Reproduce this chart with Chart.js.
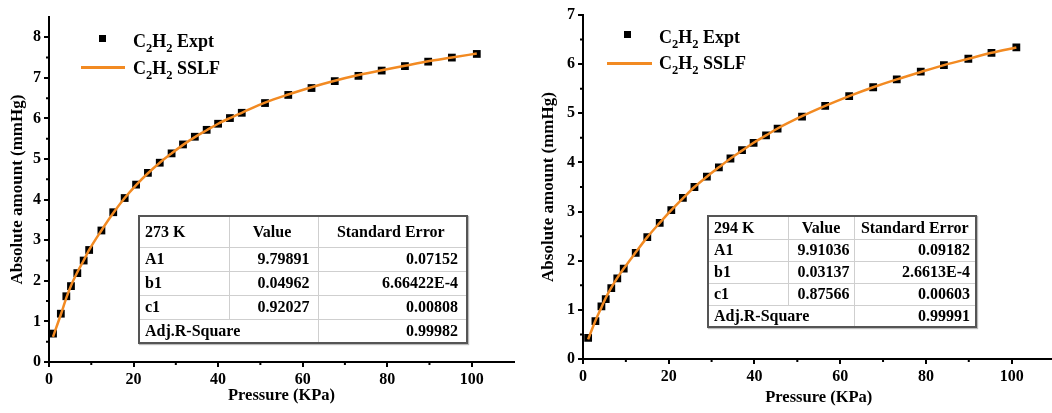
<!DOCTYPE html>
<html>
<head>
<meta charset="utf-8">
<script src="https://cdn.jsdelivr.net/npm/chart.js@4.4.1/dist/chart.umd.min.js"></script>
<style>
  html, body { margin: 0; padding: 0; background: #fff; }
  body { width: 1052px; height: 413px; position: relative; overflow: hidden; }
  canvas { position: absolute; top: 0; }
  #cvLeft { left: 0; }
  #cvRight { left: 530px; }
  .lg { position: absolute; font: bold 18px 'Liberation Serif', 'Times New Roman', serif; color: #000; line-height: 18px; white-space: nowrap; }
  .lg sub { font-size: 12.5px; line-height: 0; vertical-align: -5px; }
  .sq { position: absolute; width: 7px; height: 7px; background: #000; }
  .ln { position: absolute; height: 2.5px; background: #f28a22; }
  table.fit { position: absolute; border-collapse: collapse; border: 2px solid #555; box-shadow: 1px 1px 1px #bbb;
    font: bold 16px 'Liberation Serif', 'Times New Roman', serif; color: #000; background: #fff; table-layout: fixed; }
  table.fit td { border: 1px solid #cfcfcf; padding: 0 8px 0 5px; white-space: nowrap; }
  table.fit td.r { text-align: right; }
  table.fit td.c { text-align: center; }
</style>
</head>
<body>
<canvas id="cvLeft" width="530" height="413"></canvas>
<canvas id="cvRight" width="530" height="413"></canvas>

<!-- legends -->
<div class="sq" style="left:99px;top:35px"></div>
<div class="lg" style="left:133px;top:32px">C<sub>2</sub>H<sub>2</sub> Expt</div>
<div class="ln" style="left:81px;top:66px;width:44px"></div>
<div class="lg" style="left:133px;top:59px">C<sub>2</sub>H<sub>2</sub> SSLF</div>

<div class="sq" style="left:624px;top:31px"></div>
<div class="lg" style="left:659px;top:28px">C<sub>2</sub>H<sub>2</sub> Expt</div>
<div class="ln" style="left:607px;top:62px;width:45px"></div>
<div class="lg" style="left:659px;top:54px">C<sub>2</sub>H<sub>2</sub> SSLF</div>

<!-- fit parameter tables -->
<table class="fit" style="left:138px;top:215px;width:328px">
  <colgroup><col style="width:90px"><col style="width:89px"><col style="width:149px"></colgroup>
  <tr style="height:31px"><td>273 K</td><td class="c">Value</td><td class="c">Standard Error</td></tr>
  <tr style="height:24px"><td>A1</td><td class="r">9.79891</td><td class="r">0.07152</td></tr>
  <tr style="height:24px"><td>b1</td><td class="r">0.04962</td><td class="r">6.66422E-4</td></tr>
  <tr style="height:24px"><td>c1</td><td class="r">0.92027</td><td class="r">0.00808</td></tr>
  <tr style="height:24px"><td colspan="2">Adj.R-Square</td><td class="r">0.99982</td></tr>
</table>

<table class="fit" style="left:707px;top:215px;width:268px">
  <colgroup><col style="width:80px"><col style="width:66px"><col style="width:122px"></colgroup>
  <tr style="height:23px"><td>294 K</td><td class="c" style="padding:0">Value</td><td class="c" style="padding:0 4px">Standard Error</td></tr>
  <tr style="height:22px"><td>A1</td><td class="r" style="padding-right:4px">9.91036</td><td class="r" style="padding-right:5px">0.09182</td></tr>
  <tr style="height:22px"><td>b1</td><td class="r" style="padding-right:4px">0.03137</td><td class="r" style="padding-right:5px">2.6613E-4</td></tr>
  <tr style="height:22px"><td>c1</td><td class="r" style="padding-right:4px">0.87566</td><td class="r" style="padding-right:5px">0.00603</td></tr>
  <tr style="height:22px"><td colspan="2">Adj.R-Square</td><td class="r" style="padding-right:5px">0.99991</td></tr>
</table>

<script>
// 273 K isotherm
const leftPressure = [0.95, 2.8, 4.1, 5.2, 6.7, 8.2, 9.5, 12.4, 15.2, 17.9, 20.6, 23.4, 26.2, 29.0, 31.7,
  34.5, 37.3, 40.0, 42.8, 45.6, 51.1, 56.6, 62.1, 67.6, 73.2, 78.7, 84.2, 89.7, 95.3, 101.2];
const leftExpt = [0.70, 1.19, 1.62, 1.87, 2.19, 2.50, 2.76, 3.24, 3.69, 4.04, 4.37, 4.66, 4.91, 5.14, 5.36,
  5.55, 5.72, 5.87, 6.01, 6.14, 6.38, 6.58, 6.75, 6.92, 7.05, 7.18, 7.29, 7.40, 7.50, 7.59];
const leftFit = [0.62, 1.17, 1.58, 1.88, 2.21, 2.50, 2.76, 3.24, 3.67, 4.04, 4.36, 4.65, 4.91, 5.14, 5.35,
  5.54, 5.71, 5.87, 6.01, 6.14, 6.39, 6.59, 6.77, 6.93, 7.07, 7.19, 7.30, 7.41, 7.50, 7.60];

// 294 K isotherm
const rightPressure = [1.2, 2.9, 4.3, 5.3, 6.6, 8.0, 9.5, 12.3, 15.0, 17.9, 20.6, 23.3, 26.0, 28.9, 31.7,
  34.4, 37.1, 39.8, 42.7, 45.4, 51.1, 56.5, 62.1, 67.7, 73.2, 78.8, 84.2, 89.9, 95.3, 101.1];
const rightExpt = [0.43, 0.77, 1.07, 1.22, 1.44, 1.64, 1.84, 2.16, 2.48, 2.77, 3.03, 3.28, 3.50, 3.71, 3.90,
  4.08, 4.25, 4.40, 4.55, 4.69, 4.93, 5.15, 5.35, 5.53, 5.69, 5.85, 5.98, 6.11, 6.23, 6.34];
const rightFit = [0.40, 0.78, 1.05, 1.24, 1.45, 1.65, 1.84, 2.17, 2.48, 2.77, 3.03, 3.27, 3.50, 3.71, 3.90,
  4.08, 4.24, 4.40, 4.55, 4.69, 4.94, 5.15, 5.35, 5.53, 5.69, 5.84, 5.98, 6.11, 6.23, 6.34];

const xTicks = [0, 20, 40, 60, 80, 100];
const xMinor = [10, 30, 50, 70, 90];

const ORANGE = '#f28a22';
const serif = "'Liberation Serif', 'Times New Roman', serif";

function toPoints(xs, ys) {
  return xs.map((x, i) => ({ x: x, y: ys[i] }));
}

// short outward ticks between the labelled ones
const minorTicks = {
  id: 'minorTicks',
  afterDraw(chart, args, opts) {
    const ctx = chart.ctx;
    const xs = chart.scales.x, ys = chart.scales.y;
    const a = chart.chartArea;
    ctx.save();
    ctx.strokeStyle = '#000';
    ctx.lineWidth = 2;
    ctx.beginPath();
    opts.x.forEach(v => {
      const px = xs.getPixelForValue(v);
      ctx.moveTo(px, a.bottom);
      ctx.lineTo(px, a.bottom + 3);
    });
    opts.y.forEach(v => {
      const py = ys.getPixelForValue(v);
      ctx.moveTo(a.left, py);
      ctx.lineTo(a.left - 3, py);
    });
    ctx.stroke();
    ctx.restore();
  }
};

function makeChart(id, xs, expt, fit, cfg) {
  const yMinor = [];
  for (let v = 0.5; v < cfg.yMax; v += 1) yMinor.push(v);
  const keep = list => scale => { scale.ticks = scale.ticks.filter(t => list.includes(t.value)); };
  const yMajor = [];
  for (let v = 0; v <= cfg.yMax; v++) yMajor.push(v);

  return new Chart(document.getElementById(id), {
    type: 'scatter',
    data: {
      datasets: [{
        label: 'C2H2 SSLF',
        data: toPoints(xs, fit),
        showLine: true,
        borderColor: ORANGE,
        borderWidth: 2.5,
        pointRadius: 0,
        cubicInterpolationMode: 'monotone'
      }, {
        label: 'C2H2 Expt',
        data: toPoints(xs, expt),
        pointStyle: 'rect',
        pointRadius: 5.5,
        backgroundColor: '#000',
        borderColor: '#000',
        borderWidth: 0
      }]
    },
    options: {
      responsive: false,
      animation: false,
      layout: { padding: { top: cfg.top, right: cfg.right, left: 0, bottom: 0 } },
      plugins: {
        legend: { display: false },
        tooltip: { enabled: false },
        minorTicks: { x: xMinor, y: yMinor }
      },
      scales: {
        x: {
          type: 'linear',
          min: 0, max: 110,
          afterBuildTicks: keep(xTicks),
          afterFit: s => { s.height = cfg.xHeight; },
          border: { display: true, color: '#000', width: 2 },
          grid: { drawOnChartArea: false, color: '#000', lineWidth: 2, tickLength: 5 },
          ticks: { color: '#000', padding: 3, maxRotation: 0, font: { family: serif, size: 16, weight: 'bold' } },
          title: {
            display: true, text: 'Pressure (KPa)', color: '#000',
            padding: { top: 0, bottom: cfg.xTitlePad },
            font: { family: serif, size: 16.5, weight: 'bold' }
          }
        },
        y: {
          type: 'linear',
          min: 0, max: cfg.yMax,
          afterBuildTicks: keep(yMajor),
          afterFit: s => { s.width = cfg.yWidth; },
          border: { display: true, color: '#000', width: 2 },
          grid: { drawOnChartArea: false, color: '#000', lineWidth: 2, tickLength: 5 },
          ticks: { color: '#000', padding: 3, font: { family: serif, size: 16, weight: 'bold' } },
          title: {
            display: true, text: 'Absolute amount (mmHg)', color: '#000',
            padding: { top: cfg.yTitlePad, bottom: 0 },
            font: { family: serif, size: 17, weight: 'bold' }
          }
        }
      }
    },
    plugins: [minorTicks]
  });
}

makeChart('cvLeft', leftPressure, leftExpt, leftFit,
  { yMax: 8.5, top: 17, right: 16, xHeight: 51, yWidth: 49, xTitlePad: 7, yTitlePad: 7 });
makeChart('cvRight', rightPressure, rightExpt, rightFit,
  { yMax: 7, top: 15, right: 4, xHeight: 54, yWidth: 53, xTitlePad: 5, yTitlePad: 8 });
</script>
</body>
</html>
